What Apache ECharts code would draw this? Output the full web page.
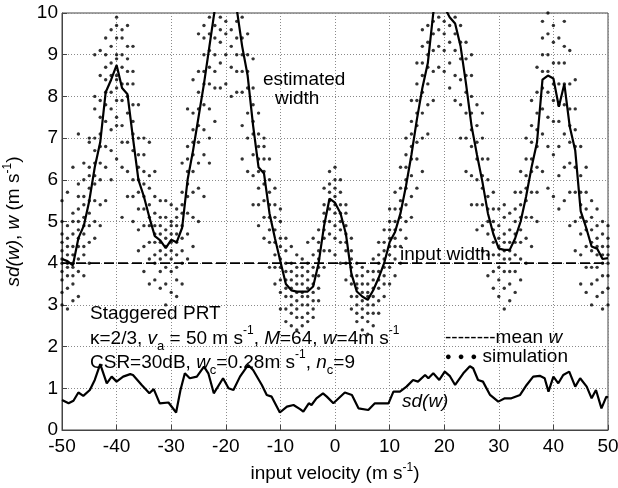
<!DOCTYPE html>
<html>
<head>
<meta charset="utf-8">
<script src="https://cdn.jsdelivr.net/npm/echarts@6/dist/echarts.min.js"></script>
<style>html,body{margin:0;padding:0;background:#fff}#c{width:618px;height:488px}</style>
</head>
<body>
<div id="c"></div>
<script>
// ---------- data ----------
const velocity = [-50,-49,-48,-47,-46,-45,-44,-43,-42,-41,-40,-39,-38,-37,-36,-35,-34,-33,-32,-31,-30,-29,-28,-27,-26,-25,-24,-23,-22,-21,-20,-19,-18,-17,-16,-15,-14,-13,-12,-11,-10,-9,-8,-7,-6,-5,-4,-3,-2,-1,0,1,2,3,4,5,6,7,8,9,10,11,12,13,14,15,16,17,18,19,20,21,22,23,24,25,26,27,28,29,30,31,32,33,34,35,36,37,38,39,40,41,42,43,44,45,46,47,48,49,50];

// mean estimated width (solid line); values above 10 are clipped by the axis
const meanWidth = [4.1,4.05,3.95,4.6,4.9,5.5,6.3,6.9,8.1,8.4,8.75,8.2,8.05,7.0,6.0,5.6,5.1,4.65,4.55,4.36,4.56,4.5,4.85,6.0,6.7,7.5,8.3,9.2,10.1,10.8,11.2,10.8,10.1,9.2,8.5,7.3,6.3,6.15,5.2,4.6,4.04,3.5,3.35,3.32,3.32,3.32,3.44,4.0,4.9,5.55,5.45,5.2,4.7,3.75,3.32,3.2,3.12,3.35,3.65,4.0,4.5,4.75,5.2,5.85,6.6,7.45,8.2,8.8,10.0,10.6,10.15,9.9,9.75,9.2,8.3,7.3,6.6,5.95,5.2,4.7,4.35,4.32,4.32,4.6,5.0,5.6,6.3,6.9,8.4,8.5,8.43,7.75,8.3,7.27,6.7,5.25,4.85,4.4,4.35,4.1,4.12];

// simulation realisations (dots), one column per input velocity
const simWidth = [
[3.0,3.3,3.6,3.8,4.0,4.1,4.3,4.5,4.7,5.0,5.5],
[2.9,3.4,3.7,3.9,4.0,4.2,4.4,4.6,4.9,5.7],
[3.1,3.5,3.7,3.9,4.0,4.2,4.4,4.7,5.0,5.2,6.3],
[3.2,3.8,4.1,4.4,4.6,4.8,5.0,5.3,5.6,5.9,7.1],
[3.7,4.2,4.4,4.7,4.9,5.1,5.4,5.6,6.0,6.4],
[4.0,4.5,4.9,5.2,5.5,5.8,6.1,6.3,6.9,7.0],
[4.6,5.0,5.5,5.9,6.1,6.4,6.7,7.0,7.7,8.0,9.0],
[4.9,5.4,6.0,6.4,6.8,7.1,7.5,7.9,8.5,9.1],
[5.5,6.3,6.8,7.4,7.8,8.1,8.4,8.7,9.0,9.4],
[6.0,6.7,7.2,7.7,8.1,8.5,8.8,9.2,9.6],
[6.5,7.3,7.5,7.9,8.2,8.4,8.5,8.9,9.0,9.4,9.7,9.9],
[5.1,6.3,6.9,7.3,7.9,8.3,8.7,9.0,9.4,9.6],
[5.6,6.2,6.9,7.6,8.0,8.3,8.6,8.9,9.2,9.7],
[5.0,5.6,6.0,6.7,7.1,7.4,7.8,8.3,8.6,9.2],
[4.3,4.8,5.3,5.7,6.0,6.3,6.6,7.0,7.8],
[3.8,4.4,4.9,5.3,5.6,5.9,6.2,6.6,7.0],
[3.5,4.1,4.5,4.9,5.1,5.4,5.8,6.1,6.9],
[3.6,4.0,4.2,4.5,4.7,4.9,5.2,5.6,6.2],
[3.4,3.8,4.1,4.3,4.5,4.7,4.9,5.1,5.5],
[3.0,3.5,3.9,4.2,4.4,4.6,4.8,5.1,5.5],
[3.3,3.8,4.1,4.3,4.5,4.7,4.9,5.0,5.4],
[3.2,3.6,3.9,4.2,4.5,4.7,4.9,5.1,5.3],
[3.5,4.0,4.3,4.6,4.9,5.2,5.4,5.7,6.4],
[4.1,4.7,5.2,5.6,5.9,6.2,6.5,6.8,7.7],
[4.4,5.1,5.7,6.2,6.6,6.9,7.2,7.6,8.4],
[5.0,5.8,6.4,6.9,7.3,7.7,8.1,8.6,9.5],
[5.6,6.6,7.2,7.8,8.3,8.6,9.0,9.4,9.7],
[6.4,7.0,7.7,8.3,8.7,9.1,9.5,9.9],
[7.4,8.2,8.6,9.0,9.4,9.7],
[8.2,8.8,9.3,9.6,9.9],
[8.3,9.0,9.5,9.8],
[8.0,8.7,9.2,9.6],
[8.1,8.6,9.0,9.4,9.8],
[6.5,7.3,8.1,8.6,9.0,9.4,9.9],
[6.2,7.0,7.6,8.2,8.6,9.0,9.5],
[5.4,6.1,6.6,7.1,7.4,7.8,8.2,8.9],
[4.9,5.4,5.8,6.2,6.5,6.8,7.1,7.6],
[4.6,5.1,5.5,5.9,6.2,6.5,6.8,7.0],
[3.9,4.5,4.8,5.1,5.4,5.7,6.0,6.5],
[3.5,3.9,4.2,4.5,4.8,5.1,5.4,5.8],
[2.9,3.3,3.6,3.9,4.1,4.4,4.6,5.0,5.3],
[2.6,2.9,3.2,3.4,3.6,3.8,4.0,4.3,4.6],
[2.5,2.8,3.0,3.2,3.4,3.6,3.8,4.0,4.4],
[2.4,2.7,2.9,3.1,3.3,3.5,3.7,3.9,4.2],
[2.5,2.7,3.0,3.2,3.3,3.5,3.7,3.9,4.1],
[2.6,2.8,3.0,3.2,3.4,3.6,3.8,4.0,4.5],
[2.7,2.9,3.1,3.3,3.5,3.7,3.9,4.2,4.6],
[3.1,3.4,3.7,3.9,4.1,4.3,4.5,4.8],
[3.9,4.3,4.6,4.8,5.0,5.2,5.4,5.8],
[4.3,4.7,5.0,5.3,5.5,5.7,5.9,6.2],
[4.2,4.6,4.9,5.2,5.4,5.6,5.8,6.0,6.3],
[4.0,4.5,4.8,5.0,5.2,5.4,5.7,6.0],
[3.6,4.0,4.3,4.5,4.7,4.9,5.2,5.4],
[2.9,3.2,3.5,3.7,3.9,4.1,4.3,4.6],
[2.6,2.8,3.0,3.2,3.4,3.5,3.7,4.0],
[2.4,2.7,2.9,3.1,3.3,3.5,3.7,3.9],
[2.3,2.6,2.8,3.0,3.2,3.3,3.5,3.8],
[2.5,2.8,3.0,3.2,3.4,3.6,3.8,4.1],
[2.8,3.1,3.4,3.6,3.8,4.0,4.2,4.5],
[3.2,3.5,3.7,3.9,4.1,4.3,4.5,4.8],
[3.5,3.9,4.2,4.4,4.6,4.8,5.0,5.3],
[3.7,4.1,4.4,4.6,4.8,5.0,5.3,5.7],
[4.0,4.4,4.8,5.1,5.3,5.5,5.8,6.3],
[4.6,5.0,5.4,5.8,6.0,6.3,6.6,7.0],
[5.1,5.6,6.1,6.5,6.8,7.1,7.4,7.9],
[5.8,6.5,6.9,7.3,7.6,7.9,8.3,8.8],
[6.2,7.0,7.6,8.1,8.5,8.8,9.2,9.6],
[7.1,7.8,8.3,8.7,9.0,9.3,9.7],
[7.9,8.6,9.1,9.5,9.8],
[8.7,9.2,9.6,9.9],
[8.6,9.1,9.5,9.8],
[8.2,8.8,9.3,9.7],
[7.9,8.5,9.1,9.5,9.9],
[7.0,7.8,8.4,8.9,9.3,9.7],
[6.2,7.0,7.6,8.1,8.5,8.9,9.3],
[5.4,6.1,6.8,7.2,7.6,8.0,8.5,9.0],
[4.8,5.4,6.0,6.5,6.9,7.3,7.8],
[4.3,4.9,5.4,5.8,6.1,6.5,7.0,7.6],
[3.7,4.2,4.7,5.0,5.3,5.6,6.0,6.5],
[3.4,3.8,4.2,4.5,4.8,5.0,5.3,5.7],
[3.2,3.6,3.9,4.2,4.4,4.6,4.9,5.3],
[2.9,3.4,3.8,4.1,4.3,4.5,4.7,5.1,5.4],
[3.1,3.5,3.8,4.1,4.3,4.5,4.8,5.2],
[3.3,3.8,4.2,4.5,4.7,5.0,5.3,5.7],
[3.6,4.1,4.5,4.8,5.1,5.4,5.7,6.2],
[4.0,4.6,5.1,5.5,5.8,6.1,6.5,7.0],
[4.4,5.1,5.7,6.2,6.5,6.9,7.3,7.9],
[5.0,5.7,6.3,6.8,7.2,7.6,8.1,8.7],
[6.2,7.1,7.7,8.2,8.6,9.0,9.4,9.8],
[5.8,6.8,7.5,8.1,8.6,9.0,9.5,10.0],
[5.6,6.6,7.4,7.9,8.3,8.8,9.3,9.7],
[5.3,6.1,6.8,7.4,7.8,8.3,8.8,9.4],
[5.5,6.3,7.1,7.8,8.3,8.8,9.2,9.8],
[4.9,5.7,6.4,6.9,7.3,7.7,8.3,9.1],
[4.3,5.0,5.7,6.3,6.8,7.2,7.7,8.4],
[3.5,4.2,4.7,5.1,5.4,5.7,6.1,6.8],
[3.3,3.9,4.4,4.8,5.0,5.3,5.7,6.3],
[3.0,3.5,3.9,4.3,4.5,4.8,5.1,5.5],
[3.2,3.6,3.9,4.2,4.4,4.6,4.9,5.3],
[2.9,3.3,3.7,4.0,4.2,4.4,4.7,5.0],
[3.0,3.4,3.7,4.0,4.2,4.4,4.6,4.9]
];

// standard deviation of the width estimate (bottom line)
const sdVel = [-50,-48.8,-47.9,-47.0,-46.1,-44.9,-44.0,-43.0,-41.8,-40.9,-40.0,-38.8,-37.5,-37.0,-35.4,-34.0,-33.2,-32.1,-30.5,-29.1,-28.3,-27.5,-26.6,-25.3,-24.0,-23.2,-22.2,-20.5,-19.5,-18.6,-17.4,-15.9,-15.0,-13.4,-12.5,-11.6,-10.1,-8.8,-7.6,-6.4,-5.8,-4.8,-4.3,-3.4,-2.2,-1.5,-0.3,1.8,3.1,4.3,6.1,7.3,9.8,10.7,11.9,13.1,14.3,15.2,16.5,17.1,18.0,19.1,20.1,21.0,22.0,23.5,24.7,25.3,26.2,27.1,28.4,29.9,31.1,32.3,33.9,35.1,36.3,37.5,38.4,39.1,40.0,40.9,41.8,42.9,44.0,44.9,46.1,47.0,47.8,48.8,49.7,50];
const sdVal = [0.72,0.64,0.70,0.90,0.82,0.96,1.20,1.58,1.12,1.28,1.16,1.28,1.34,1.32,1.08,0.88,0.98,0.64,0.66,0.42,0.96,1.36,1.24,1.28,1.52,1.36,0.88,1.24,1.00,0.96,1.28,1.56,1.44,1.08,0.84,0.80,0.42,0.56,0.60,0.50,0.44,0.64,0.60,0.76,0.88,0.80,0.64,0.90,0.84,0.52,0.48,0.64,0.64,0.92,0.92,1.04,1.20,1.16,1.32,1.24,1.36,1.20,1.40,1.30,1.08,1.36,1.53,1.48,1.20,1.16,0.84,0.68,0.76,0.76,0.84,1.08,1.28,1.30,1.24,0.92,1.28,1.12,1.32,1.40,1.04,1.24,1.04,0.76,0.96,0.52,0.80,0.78];

// input (true) width
const inputVel = [-50, 50];
const inputWidth = [4, 4];

const xMin = -50, xMax = 50, xStep = 10;
const yMin = 0, yMax = 10, yStep = 1;

// ---------- chart ----------
const FONT = 'Liberation Sans, Arial, sans-serif';
const chart = echarts.init(document.getElementById('c'), null, {renderer: 'canvas'});

const simPoints = [];
velocity.forEach((v, i) => simWidth[i].forEach(w => simPoints.push([v, w])));

const richBase = {
  i:   {fontStyle: 'italic', fontSize: 19, fontFamily: FONT, lineHeight: 28},
  sup: {fontSize: 12, fontFamily: FONT, verticalAlign: 'top', lineHeight: 14},
  sub: {fontSize: 13, fontFamily: FONT, verticalAlign: 'bottom', lineHeight: 12},
  dot: {fontSize: 11, fontFamily: FONT, lineHeight: 28}
};

function txt(x, y, text) {
  return {
    type: 'text', x: x, y: y, z: 100,
    style: {
      text: text, fill: '#000', fontSize: 19, fontFamily: FONT,
      lineHeight: 28, align: 'left', verticalAlign: 'middle', rich: richBase
    }
  };
}

chart.setOption({
  animation: false,
  backgroundColor: '#fff',
  grid: {left: 62, right: 10, top: 13, bottom: 58, show: true, borderColor: '#444', borderWidth: 1,
         containLabel: false, outerBoundsMode: 'none'},
  xAxis: {
    type: 'value', min: xMin, max: xMax, interval: xStep,
    name: 'input velocity (m s{sup|-1})', nameLocation: 'middle', nameGap: 32,
    nameTextStyle: {fontSize: 19, fontFamily: FONT, color: '#000', lineHeight: 24,
      rich: {sup: {fontSize: 12, fontFamily: FONT, verticalAlign: 'top', lineHeight: 12}}},
    axisLine: {onZero: false, lineStyle: {color: '#444', width: 1}},
    axisTick: {inside: true, length: 5, lineStyle: {color: '#444'}},
    axisLabel: {fontSize: 19, fontFamily: FONT, color: '#000', margin: 7},
    splitLine: {show: true, lineStyle: {color: '#8a8a8a', type: [1, 2], width: 1}}
  },
  yAxis: {
    type: 'value', min: yMin, max: yMax, interval: yStep,
    name: '{i|sd(w)}, {i|w} (m s{sup|-1})', nameLocation: 'middle', nameGap: 25, nameRotate: 90,
    nameTextStyle: {fontSize: 19, fontFamily: FONT, color: '#000', lineHeight: 24,
      rich: {
        i: {fontStyle: 'italic', fontSize: 19, fontFamily: FONT, lineHeight: 24},
        sup: {fontSize: 12, fontFamily: FONT, verticalAlign: 'top', lineHeight: 12}
      }},
    axisLine: {show: true, onZero: false, lineStyle: {color: '#444', width: 1}},
    axisTick: {show: true, inside: true, length: 5, lineStyle: {color: '#444'}},
    axisLabel: {fontSize: 19, fontFamily: FONT, color: '#000', margin: 4},
    splitLine: {show: true, lineStyle: {color: '#8a8a8a', type: [1, 2], width: 1}}
  },
  series: [
    {
      type: 'scatter', data: simPoints, symbol: 'circle', symbolSize: 3.4,
      itemStyle: {color: '#000'}, z: 2, silent: true
    },
    {
      type: 'line', data: inputVel.map((v, i) => [v, inputWidth[i]]), symbol: 'none',
      lineStyle: {color: '#000', width: 1.8, type: [10, 4]}, z: 3, silent: true
    },
    {
      type: 'line', data: velocity.map((v, i) => [v, meanWidth[i]]), symbol: 'none',
      lineStyle: {color: '#000', width: 2.2}, z: 4, clip: true, silent: true
    },
    {
      type: 'line', data: sdVel.map((v, i) => [v, sdVal[i]]), symbol: 'none',
      lineStyle: {color: '#000', width: 2.2}, z: 4, silent: true
    }
  ],
  graphic: [
    txt(263, 80, 'estimated'),
    txt(275, 99, 'width'),
    txt(400, 255, 'input width'),
    txt(90, 314, 'Staggered PRT'),
    txt(90, 339, 'κ=2/3, {i|v}{sub|a} = 50 m s{sup|-1}, {i|M}=64, {i|w}=4m s{sup|-1}'),
    txt(90, 363, 'CSR=30dB, {i|w}{sub|c}=0.28m s{sup|-1}, {i|n}{sub|c}=9'),
    txt(445, 338, '--------mean {i|w}'),
    txt(445, 357, '{dot|●  ●  ●} simulation'),
    txt(402, 402, '{i|sd(w)}')
  ]
});
</script>
</body>
</html>
